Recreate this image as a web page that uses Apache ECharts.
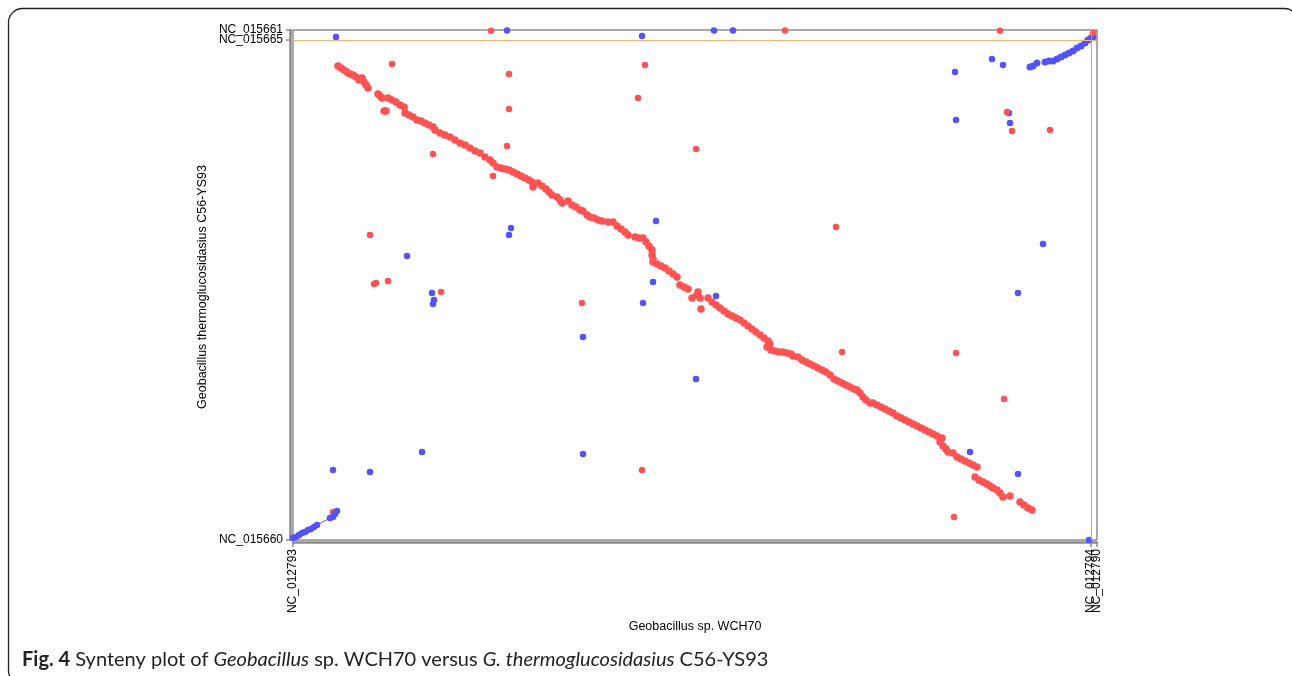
<!DOCTYPE html>
<html>
<head>
<meta charset="utf-8">
<script src="https://cdn.jsdelivr.net/npm/echarts@6/dist/echarts.min.js"></script>
<style>html,body{margin:0;padding:0;background:#fff;}#c{width:1292px;height:676px;}</style>
</head>
<body>
<div id="c"></div>
<script>
// Sequence boundaries (kb) and names
const xSeqStarts = [10, 4000];
const xSeqNames = ['NC_012793', 'NC_012794'];
const xSeqStarts2 = [4030];
const xSeqNames2 = ['NC_012790'];
const ySeqStarts = [8, 4008];
const ySeqNames = ['NC_015660', 'NC_015665'];
const ySeqStarts2 = [4100];
const ySeqNames2 = ['NC_015661'];
const xBoundary = 4000;
const yBoundary = 4008;

// Match points [x kb in WCH70, y kb in C56-YS93]
const redDiagonal = [
[235,3800],[250,3784],[265,3768],[280,3752],[295,3736],[310,3728],[325,3712],[340,3688],
[355,3704],[365,3672],[375,3648],[385,3624],[435,3576],[445,3560],[455,3544],
[485,3544],[505,3528],[525,3512],[545,3488],[565,3472],[465,3440],[475,3440],
[570,3424],[590,3408],[610,3392],[630,3368],[650,3360],[670,3344],[690,3328],[710,3312],
[720,3288],[745,3264],[770,3248],[795,3232],[820,3208],[845,3184],[870,3168],[895,3144],
[920,3120],[945,3104],[970,3072],[995,3048],[1010,3024],
[1030,2992],[1050,2984],[1070,2976],[1090,2968],[1110,2952],
[1130,2936],[1150,2920],[1170,2904],[1190,2888],[1205,2872],[1210,2832],
[1235,2864],[1255,2840],[1275,2816],[1290,2792],[1305,2768],
[1330,2752],[1345,2728],[1355,2704],[1385,2720],
[1405,2688],[1425,2672],[1445,2648],[1460,2640],[1480,2608],
[1495,2592],[1515,2584],[1535,2568],[1555,2560],[1585,2552],
[1610,2552],[1630,2520],[1650,2496],[1670,2472],[1685,2448],
[1720,2432],[1740,2424],[1760,2424],[1775,2392],[1790,2360],[1805,2328],[1805,2288],[1810,2256],
[1810,2232],[1830,2216],[1850,2200],[1870,2184],[1890,2160],[1910,2136],[1930,2112],
[1945,2048],[1965,2032],[1985,2016],
[2005,1944],[2030,1968],[2035,1992],[2045,1944],[2050,1856],[2085,1944],
[2105,1912],[2125,1888],[2145,1864],[2165,1840],[2185,1816],[2205,1800],[2225,1784],[2245,1768],
[2265,1744],[2285,1720],[2305,1696],[2325,1672],[2345,1648],[2365,1624],[2385,1600],[2395,1576],
[2380,1552],[2400,1528],[2420,1520],[2440,1512],[2460,1512],[2480,1504],[2500,1496],[2510,1480],
[2535,1472],[2555,1448],[2575,1432],[2595,1416],[2615,1400],[2635,1384],[2655,1368],[2675,1352],
[2695,1328],[2715,1296],[2735,1280],[2755,1264],[2775,1248],[2795,1232],[2815,1216],[2830,1208],
[2845,1184],[2860,1152],[2875,1128],[2895,1104],
[2910,1104],[2930,1088],[2950,1072],[2970,1056],[2990,1040],[3010,1024],[3030,1000],[3050,984],
[3070,968],[3090,952],[3110,936],[3130,920],[3150,904],[3170,888],[3190,872],[3210,856],
[3230,840],[3255,824],
[3245,792],[3260,760],[3275,736],[3285,712],[3310,704],
[3330,672],[3350,656],[3370,640],[3390,624],[3410,608],[3430,592],
[3420,512],[3440,488],[3460,472],[3480,456],[3495,440],[3510,424],
[3530,408],[3545,384],[3560,352],[3595,360],
[3645,312],[3665,288],[3685,264],[3705,248]
];
const redScattered = [
[505,3816],[1090,3736],[1090,3456],[1080,3160],[710,3096],[1010,2920],
[395,2448],[415,2056],[425,2064],[485,2080],[750,1992],[1455,1904],[1755,568],
[1770,3808],[1735,3544],[2025,3136],[2725,2512],[2755,1512],[3325,1504],[3565,1136],
[3315,192],[3795,3288],[3580,3432],[3605,3280],[1000,4082],[2470,4084],[3545,4082],
[4010,4064],[210,232]
];
const blueScattered = [
[225,4032],[1080,4084],[1755,4040],[2115,4084],[2210,4084],
[1825,2560],[1100,2504],[1090,2448],[580,2280],[705,1984],[715,1928],[710,1896],
[1460,1632],[1760,1904],[1810,2072],[2125,1960],[2025,1296],[655,712],[395,552],[210,568],
[1460,696],[3320,3752],[3325,3368],[3505,3856],[3560,3808],[3590,3424],[3595,3344],
[3760,2376],[3635,1984],[3395,712],[3635,536],[3990,8]
];
const blueTopRight = [
[3695,3792],[3710,3800],[3730,3824],[3770,3832],[3790,3840],[3810,3840],[3830,3856],
[3850,3872],[3870,3888],[3890,3904],[3910,3920],[3930,3944],[3950,3960],[3970,3984],
[3985,4008],[4000,4024],[4010,4032]
];
const blueBottomLeft = [
[10,24],[25,32],[40,48],[55,64],[70,72],[85,88],[100,96],[115,112],[130,128],
[195,184],[210,192],[220,216],[230,240]
];

const RED = '#ff5353';
const BLUE = '#5252ff';
const SZ = 6.5;
const chart = echarts.init(document.getElementById('c'), null, {renderer: 'canvas'});
const FONT = 'Liberation Sans, Arial, sans-serif';
const labelFont = {fontFamily: FONT, fontSize: 12, color: '#000'};
const axisGray = '#8a8a8a';
function xAx(vals, names, showLine, pad) {
  return {
    type: 'value', min: 10, max: 4030, offset: 2, position: 'bottom',
    splitLine: {show: false},
    axisLine: {show: showLine, onZero: false, lineStyle: {color: axisGray, width: 2.5}},
    axisTick: {show: true, length: 5, customValues: vals, lineStyle: {color: axisGray, width: 1.5}},
    axisLabel: {show: true, rotate: 90, margin: 7, customValues: vals, hideOverlap: false, padding: pad,
      formatter: v => names[vals.indexOf(v)] || '', ...labelFont}
  };
}
function yAx(vals, names, showLine, pad) {
  return {
    type: 'value', min: 8, max: 4088, offset: 3, position: 'left',
    splitLine: {show: false},
    axisLine: {show: showLine, onZero: false, lineStyle: {color: axisGray, width: 2.5}},
    axisTick: {show: true, length: 4, customValues: vals, lineStyle: {color: axisGray, width: 1.5}},
    axisLabel: {show: true, margin: 7, customValues: vals, hideOverlap: false, padding: pad,
      formatter: v => names[vals.indexOf(v)] || '', ...labelFont}
  };
}
const yAx2 = yAx(ySeqStarts2, ySeqNames2, false, [0, 0, 3, 0]);
yAx2.max = 4100; yAx2.min = 20;
chart.setOption({
  animation: false,
  backgroundColor: '#fff',
  grid: {left: 293, right: 195, top: 30, bottom: 136, show: true, borderColor: '#555', borderWidth: 1},
  xAxis: [xAx(xSeqStarts, xSeqNames, true, [0, 0, 0, 0]), xAx(xSeqStarts2, xSeqNames2, false, [0, 0, 0, 3])],
  yAxis: [yAx(ySeqStarts, ySeqNames, true, [0, 0, 0, 0]), yAx2],
  series: [
    {type: 'scatter', data: [], silent: true,
      markLine: {silent: true, symbol: 'none', label: {show: false},
        data: [{yAxis: yBoundary, lineStyle: {color: '#f2b777', width: 1, type: 'solid'}},
               {xAxis: xBoundary, lineStyle: {color: '#8fbf8f', width: 1, type: 'solid'}}]}},
    {type: 'line', data: blueBottomLeft, symbol: 'circle', symbolSize: SZ,
      lineStyle: {color: BLUE, width: 1}, itemStyle: {color: BLUE, opacity: 1}},
    {type: 'scatter', data: blueScattered, symbolSize: SZ, itemStyle: {color: BLUE, opacity: 1}},
    {type: 'scatter', data: blueTopRight, symbolSize: 7, itemStyle: {color: BLUE, opacity: 1}},
    {type: 'scatter', data: redScattered, symbolSize: SZ, itemStyle: {color: RED, opacity: 1}},
    {type: 'scatter', data: redDiagonal, symbolSize: 7.5, itemStyle: {color: RED, opacity: 1}}
  ],
  graphic: [
    {type: 'rect', shape: {x: 8.5, y: 8.5, width: 1290, height: 676, r: 14},
      style: {fill: 'none', stroke: '#222', lineWidth: 1.3}, silent: true, z: -1},
    {type: 'text', x: 695, y: 627, style: {text: 'Geobacillus sp. WCH70', fontFamily: FONT,
      fontSize: 12.5, fill: '#000', align: 'center', verticalAlign: 'middle'}},
    {type: 'text', x: 203, y: 287, rotation: Math.PI / 2, style: {text: 'Geobacillus thermoglucosidasius C56-YS93',
      fontFamily: FONT, fontSize: 12.5, fill: '#000', align: 'center', verticalAlign: 'middle'}},
    {type: 'text', x: 22, y: 660, style: {
      text: '{b|Fig. 4} Synteny plot of {i|Geobacillus} sp. WCH70 versus {i|G. thermoglucosidasius} C56-YS93',
      fontFamily: 'Lato, sans-serif', fontSize: 20, fill: '#222', verticalAlign: 'middle',
      rich: {b: {fontWeight: 'bold', fontFamily: 'Lato, sans-serif', fontSize: 20, fill: '#222'},
             i: {fontStyle: 'italic', fontFamily: 'Lato, sans-serif', fontSize: 20, fill: '#222'}}}}
  ]
});
</script>
</body>
</html>
